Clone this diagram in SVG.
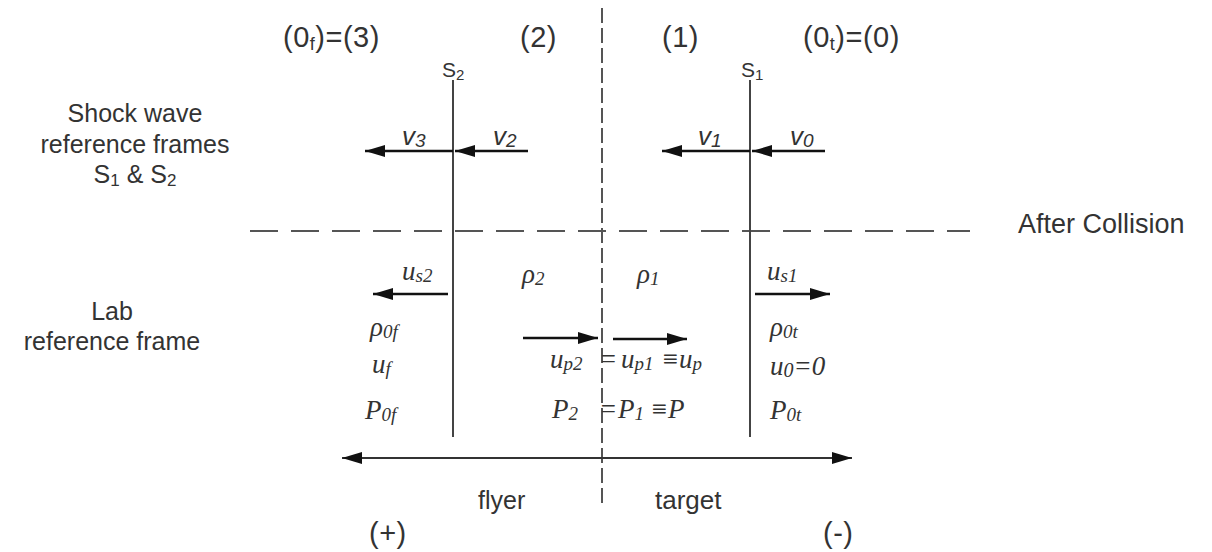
<svg xmlns="http://www.w3.org/2000/svg" width="1212" height="552" viewBox="0 0 1212 552">
<defs>
<marker id="ah" viewBox="0 0 20 12" refX="20" refY="6" markerWidth="20" markerHeight="12" markerUnits="userSpaceOnUse" orient="auto-start-reverse"><path d="M0,0 L20,6 L0,12 z" fill="#111"/></marker>
</defs>
<style>
.sans{font-family:"Liberation Sans",Arial,sans-serif;fill:#333}
.lbl{font-size:25px}
.top{font-size:29px;letter-spacing:0.5px}
.vl{font-size:26px;font-style:italic}
.math{font-family:"Liberation Serif","Times New Roman",serif;font-style:italic;font-size:27px;fill:#333}
.wave{stroke:#444;stroke-width:2}
.dash{stroke:#555;stroke-width:2;fill:none}
.arr{stroke:#111;stroke-width:2.5;fill:none;marker-end:url(#ah)}
.axis{stroke:#333;stroke-width:2;fill:none;marker-start:url(#ah);marker-end:url(#ah)}
</style>
<rect width="1212" height="552" fill="#fff"/>

<g id="region-labels">
<text class="sans top" x="283" y="47">(0<tspan font-size="18" dy="3">f</tspan><tspan dy="-3">)=(3)</tspan></text>
<text class="sans top" x="520" y="47">(2)</text>
<text class="sans top" x="662" y="47">(1)</text>
<text class="sans top" x="803" y="47">(0<tspan font-size="18" dy="3">t</tspan><tspan dy="-3">)=(0)</tspan></text>
</g>

<g id="frame-labels">
<text class="sans lbl" x="135" y="122" text-anchor="middle">Shock wave</text>
<text class="sans lbl" x="135" y="153" text-anchor="middle">reference frames</text>
<text class="sans lbl" x="135" y="183" text-anchor="middle">S<tspan font-size="17" dy="3">1</tspan><tspan dy="-3"> &amp; S</tspan><tspan font-size="17" dy="3">2</tspan></text>
<text class="sans lbl" x="112" y="320" text-anchor="middle">Lab</text>
<text class="sans lbl" x="112" y="350" text-anchor="middle">reference frame</text>
<text class="sans" font-size="27" x="1018" y="233">After Collision</text>
</g>

<g id="interface">
<line class="dash" x1="602" y1="8" x2="602" y2="508" stroke-dasharray="15 5"/>
<line class="dash" x1="250" y1="231" x2="970" y2="231" stroke-dasharray="28 13"/>
</g>

<g id="shock-S2">
<line class="wave" x1="453" y1="80" x2="453" y2="437"/>
<text class="sans" font-size="21" x="442" y="77">S<tspan font-size="15" dy="3">2</tspan></text>
</g>

<g id="shock-S1">
<line class="wave" x1="750" y1="80" x2="750" y2="437"/>
<text class="sans" font-size="21" x="741" y="77">S<tspan font-size="15" dy="3">1</tspan></text>
</g>

<g id="velocity-labels">
<text class="sans vl" x="402" y="145">v<tspan font-size="19" dy="2">3</tspan></text>
<text class="sans vl" x="493" y="145">v<tspan font-size="19" dy="2">2</tspan></text>
<text class="sans vl" x="698" y="145">v<tspan font-size="19" dy="2">1</tspan></text>
<text class="sans vl" x="790" y="145">v<tspan font-size="19" dy="2">0</tspan></text>
</g>

<g id="lab-labels">
<text class="math" x="402" y="280">u<tspan font-size="19" dy="2">s2</tspan></text>
<text class="math" x="522" y="283">ρ<tspan font-size="19" dy="2">2</tspan></text>
<text class="math" x="637" y="283">ρ<tspan font-size="19" dy="2">1</tspan></text>
<text class="math" x="767" y="280">u<tspan font-size="19" dy="2">s1</tspan></text>
<text class="math" x="370" y="336">ρ<tspan font-size="19" dy="2">0f</tspan></text>
<text class="math" x="372" y="373">u<tspan font-size="19" dy="2">f</tspan></text>
<text class="math" x="365" y="419">P<tspan font-size="19" dy="2">0f</tspan></text>
<text class="math" x="770" y="336">ρ<tspan font-size="19" dy="2">0t</tspan></text>
<text class="math" x="770" y="375" font-size="28">u<tspan font-size="20" dy="2">0</tspan><tspan dy="-2">=0</tspan></text>
<text class="math" x="770" y="419">P<tspan font-size="19" dy="2">0t</tspan></text>
<text class="math" x="550" y="368">u<tspan font-size="19" dy="2">p2</tspan><tspan x="599" dy="-2">=</tspan><tspan x="621">u</tspan><tspan font-size="19" dy="2">p1</tspan><tspan x="661" dy="-2">≡</tspan><tspan x="679">u</tspan><tspan font-size="19" dy="2">p</tspan></text>
<text class="math" x="552" y="418">P<tspan font-size="19" dy="2">2</tspan><tspan x="599" dy="-2">=</tspan><tspan x="618">P</tspan><tspan font-size="19" dy="2">1</tspan><tspan x="650" dy="-2">≡</tspan><tspan x="668">P</tspan></text>
</g>

<g id="side-labels">
<text class="sans" font-size="25" x="478" y="509">flyer</text>
<text class="sans" font-size="26" x="655" y="509">target</text>
<text class="sans top" x="369" y="543">(+)</text>
<text class="sans top" x="823" y="543">(-)</text>
</g>

<g id="connectors">
<line class="arr" x1="453" y1="151" x2="365" y2="151"/>
<line class="arr" x1="528" y1="151" x2="455" y2="151"/>
<line class="arr" x1="750" y1="151" x2="662" y2="151"/>
<line class="arr" x1="825" y1="151" x2="752" y2="151"/>
<line class="arr" x1="448" y1="294" x2="373" y2="294"/>
<line class="arr" x1="755" y1="294" x2="830" y2="294"/>
<line class="arr" x1="523" y1="338" x2="598" y2="338"/>
<line class="arr" x1="613" y1="339" x2="687" y2="339"/>
<line class="axis" x1="342" y1="458" x2="852" y2="458"/>
</g>
</svg>
